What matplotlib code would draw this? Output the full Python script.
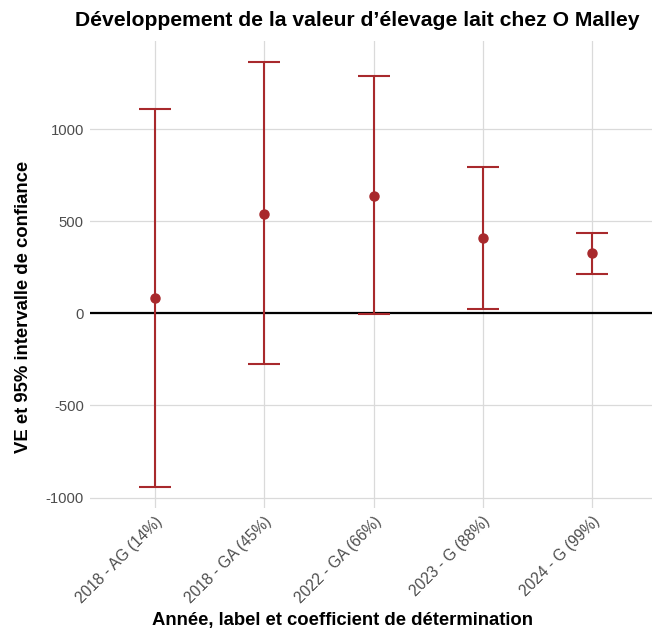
import matplotlib
matplotlib.use("Agg")
import matplotlib.pyplot as plt
import numpy as np

plt.rcParams['font.family'] = ['Liberation Sans', 'DejaVu Sans']
plt.rcParams['axes.unicode_minus'] = False

categories = ["2018 - AG (14%)", "2018 - GA (45%)", "2022 - GA (66%)", "2023 - G (88%)", "2024 - G (99%)"]
ve = [85, 542, 640, 409, 326]
lower = [-942, -277, -5, 25, 216]
upper = [1112, 1364, 1288, 793, 438]

W, H = 652, 633
fig = plt.figure(figsize=(W/100, H/100), dpi=100)
left, right, top, bottom = 89.5, 657.5, 41, 508
ax = fig.add_axes([left/W, 1 - bottom/H, (right-left)/W, (bottom-top)/H])

x = np.arange(len(categories))
col = "#A8292C"
yerr = [np.array(ve) - np.array(lower), np.array(upper) - np.array(ve)]
ax.errorbar(x, ve, yerr=yerr, fmt='o', color=col, ecolor=col, elinewidth=1.5,
            capsize=11.5, capthick=1.5, markersize=6.5, zorder=3)
ax.axhline(0, color='black', linewidth=1.6, zorder=2)

ax.set_xlim(-0.6, len(categories) - 0.4)
ax.set_ylim(-1057, 1479)
ax.set_yticks([-1000, -500, 0, 500, 1000])
ax.set_xticks(x)
ax.set_xticklabels(categories, rotation=45, ha='right', rotation_mode='anchor')
ax.grid(True, color='#DADADA', linewidth=0.9)
ax.set_axisbelow(True)
for s in ax.spines.values():
    s.set_visible(False)
ax.tick_params(length=0, labelcolor='#4D4D4D', pad=4)
ax.tick_params(axis='y', labelsize=10.7)
ax.tick_params(axis='x', labelsize=11.2)

fig.text(357/W, 1 - 20/H, "Développement de la valeur d’élevage lait chez O Malley",
         fontsize=15.2, fontweight='bold', ha='center', va='center')
fig.text(343/W, 1 - 621/H, "Année, label et coefficient de détermination",
         fontsize=13.3, fontweight='bold', ha='center', va='center')
fig.text(24/W, 1 - 307/H, "VE et 95% intervalle de confiance",
         fontsize=13.3, fontweight='bold', ha='center', va='center', rotation=90)

fig.savefig("out.png", dpi=100)
